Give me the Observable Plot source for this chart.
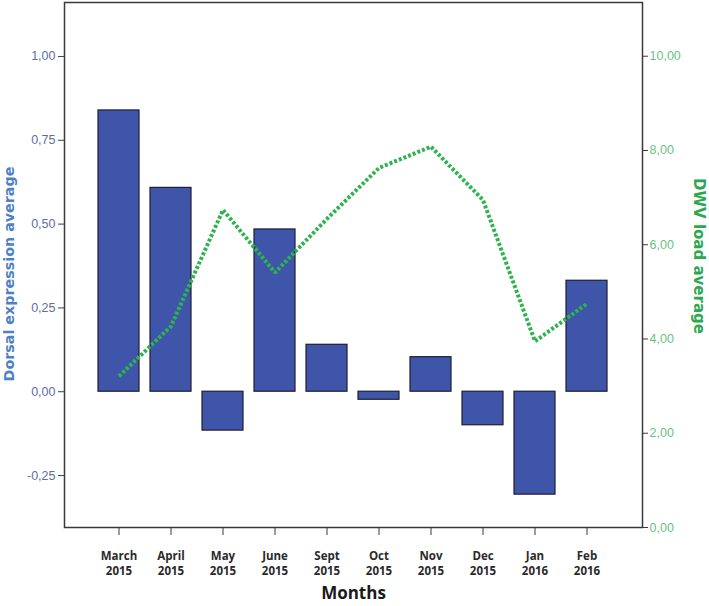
<!DOCTYPE html>
<html>
<head>
<meta charset="utf-8">
<script src="https://cdn.jsdelivr.net/npm/d3@7"></script>
<script src="https://cdn.jsdelivr.net/npm/@observablehq/plot@0.6"></script>
<style>
  html, body { margin: 0; padding: 0; background: #fff; }
  #chart { width: 709px; height: 606px; }
</style>
</head>
<body>
<div id="chart"></div>
<script>
const months = ["March 2015", "April 2015", "May 2015", "June 2015", "Sept 2015", "Oct 2015", "Nov 2015", "Dec 2015", "Jan 2016", "Feb 2016"];
const dorsal = [0.839, 0.608, -0.116, 0.484, 0.140, -0.024, 0.103, -0.100, -0.307, 0.331];
const dwv = [3.21, 4.27, 6.74, 5.41, 6.55, 7.63, 8.08, 6.95, 3.95, 4.75];
const leftTicks = [-0.25, 0, 0.25, 0.5, 0.75, 1.0];
const rightTicks = [0, 2, 4, 6, 8, 10];

// map right axis (DWV) onto the left y scale
const yMin = -0.405, yMax = 1.161;
const rMax = 11.14;
const k = (yMax - yMin) / rMax;
const toLeft = v => yMin + v * k;

const lineColor = "#2fb34e";
const data = months.map((m, i) => ({month: m, dorsal: dorsal[i], dwv: dwv[i]}));
const fmt = d3.format(".2f");
const comma = v => fmt(v).replace(".", ",").replace("\u2212", "-");

const chart = Plot.plot({
  width: 709,
  height: 606,
  marginLeft: 64,
  marginRight: 67,
  marginTop: 2,
  marginBottom: 79,
  style: {fontFamily: "'Liberation Sans', Arial, sans-serif", background: "#fff"},
  x: {domain: months, paddingInner: 0.21, paddingOuter: 0.65, label: null},
  y: {domain: [yMin, yMax], label: null},
  marks: [
    Plot.barY(data, {x: "month", y: "dorsal", fill: "#3f55a9", stroke: "#1c1f33", strokeWidth: 1.2}),
    Plot.line(data, {x: "month", y: d => toLeft(d.dwv), stroke: lineColor, strokeWidth: 4, strokeDasharray: "3,2", strokeLinecap: "butt", strokeLinejoin: "miter"}),
    Plot.frame({stroke: "#3a3a3a", strokeWidth: 1.5}),
    Plot.axisY(leftTicks, {anchor: "left", tickSize: 6, tickPadding: 3, tickFormat: comma, fill: "#5b6ea8", stroke: "#3a3f5c", fontSize: 12.5, label: null}),
    Plot.axisY(rightTicks, {anchor: "right", y: d => toLeft(d), tickSize: 5, tickPadding: 2, tickFormat: comma, fill: "#68c383", stroke: "#3a3a3a", fontSize: 12.5, label: null}),
    Plot.axisX(months, {anchor: "bottom", tickSize: 8, tickPadding: 14, tickFormat: d => d.replace(" ", "\n"), fontSize: 11.5, fontWeight: "bold", fill: "#2a2a2a", stroke: "#3a3a3a", fontFamily: "'Open Sans', sans-serif", label: null, lineHeight: 1.3}),
    Plot.text(["Dorsal expression average"], {frameAnchor: "left", textAnchor: "middle", rotate: -90, dx: -55, dy: 9, fontSize: 14.3, fontWeight: "bold", fill: "#4f7fc4", fontFamily: "'DejaVu Sans', sans-serif"}),
    Plot.text(["DWV load average"], {frameAnchor: "right", textAnchor: "middle", rotate: 90, dx: 56, dy: -9, fontSize: 15, fontWeight: "bold", fill: "#2ea84f", fontFamily: "'DejaVu Sans', sans-serif"}),
    Plot.text(["Months"], {frameAnchor: "bottom", dy: 71, fontSize: 17, fontWeight: "bold", fill: "#1a1a1a", fontFamily: "'Open Sans', sans-serif"})
  ]
});
document.getElementById("chart").appendChild(chart);
</script>
</body>
</html>
